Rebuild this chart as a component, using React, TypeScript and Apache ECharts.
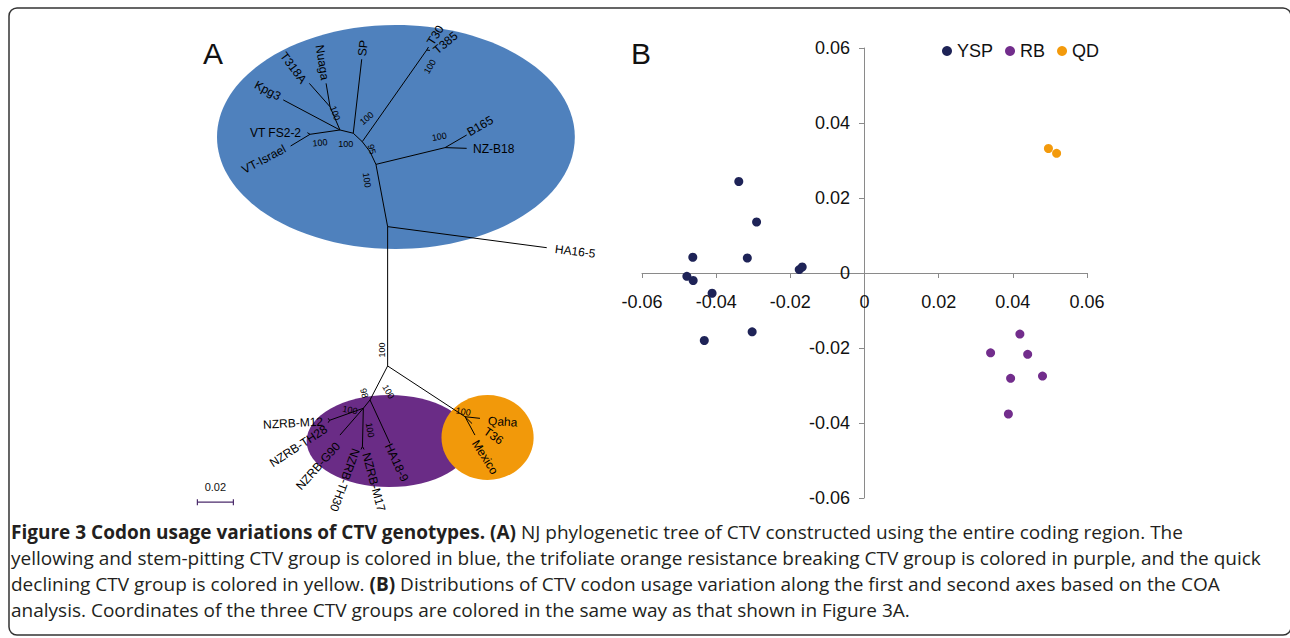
import React, { useEffect, useRef } from "react";
import * as echarts from "echarts";

const FONT = "'Liberation Sans', Arial, Helvetica, sans-serif";
const CAP_FONT = "'Open Sans', 'Noto Sans', sans-serif";

// ---------- Panel B: COA coordinates ----------
const ysp = [
  [-0.0339, 0.0244], [-0.0291, 0.0136], [-0.0463, 0.0042], [-0.0316, 0.004],
  [-0.0176, 0.0009], [-0.0168, 0.0016], [-0.0479, -0.0009], [-0.0462, -0.002],
  [-0.0411, -0.0054], [-0.0303, -0.0157], [-0.0432, -0.018],
];
const rb = [
  [0.0419, -0.0163], [0.034, -0.0213], [0.044, -0.0217],
  [0.0394, -0.0281], [0.048, -0.0275], [0.0388, -0.0376],
];
const qd = [[0.0496, 0.0332], [0.0518, 0.0319]];
const groupNames = ["YSP", "RB", "QD"];
const groupColors = ["#1e2357", "#722d8c", "#f39a0c"];

// ---------- Panel A: NJ tree layout (tree units, 0.01 substitutions = 1 unit) ----------
const treeNodes: [string, number, number][] = [
  ["HAnode", 10.98, 11.48], ["HA16-5", 19.82, 12.65], ["Nab", 10.33, 8.02],
  ["Bnode", 14.17, 7.09], ["B165", 15.37, 6.39], ["NZ-B18", 15.37, 7.13],
  ["Bend", 10.0, 7.32], ["N95", 9.57, 6.76], ["Tnode", 13.15, 1.67],
  ["T30", 13.25, 1.5], ["T385", 13.33, 1.69], ["Nsp", 9.07, 6.29],
  ["SP", 9.54, 2.18], ["C", 8.33, 6.11], ["Nnt", 7.78, 4.82],
  ["Nuaga", 7.56, 3.52], ["T318A", 6.63, 3.52], ["Kpg3", 5.18, 4.44],
  ["Vnode", 6.67, 6.35], ["VT FS2-2", 6.52, 6.26], ["VT-Israel", 5.59, 7.0],
  ["Nbot", 10.98, 19.22], ["Nqd", 15.28, 22.04], ["Qaha", 16.11, 22.13],
  ["T36", 15.67, 22.42], ["Mexico", 15.83, 23.06], ["Nrb1", 10.0, 21.11],
  ["HA18-9", 11.11, 23.52], ["Nrb2", 9.63, 21.57], ["Nm", 7.75, 22.24],
  ["NZRB-M12", 7.68, 22.13], ["NZRB-TH28", 7.68, 22.37], ["NZRB-G90", 8.33, 23.06],
  ["Ntm", 9.58, 23.69], ["NZRB-TH30", 9.5, 23.86], ["NZRB-M17", 9.67, 23.86],
];
const treeEdges: [string, string][] = [
  ["HAnode", "HA16-5"], ["HAnode", "Nab"], ["HAnode", "Nbot"],
  ["Nab", "Bnode"], ["Bnode", "B165"], ["Bnode", "NZ-B18"],
  ["Nab", "Bend"], ["Bend", "N95"], ["N95", "Tnode"], ["Tnode", "T30"], ["Tnode", "T385"],
  ["N95", "Nsp"], ["Nsp", "SP"], ["Nsp", "C"], ["C", "Nnt"], ["Nnt", "Nuaga"],
  ["Nnt", "T318A"], ["C", "Kpg3"], ["C", "Vnode"], ["Vnode", "VT FS2-2"], ["Vnode", "VT-Israel"],
  ["Nbot", "Nqd"], ["Nqd", "Qaha"], ["Nqd", "T36"], ["Nqd", "Mexico"],
  ["Nbot", "Nrb1"], ["Nrb1", "HA18-9"], ["Nrb1", "Nrb2"], ["Nrb2", "Nm"],
  ["Nm", "NZRB-M12"], ["Nm", "NZRB-TH28"], ["Nrb2", "NZRB-G90"], ["Nrb2", "Ntm"],
  ["Ntm", "NZRB-TH30"], ["Ntm", "NZRB-M17"],
];
// [text, x, y, rotationDeg, align]
const tipLabels: [string, number, number, number, string][] = [
  ["T30", 13.33, 1.33, 58, "left"], ["T385", 13.61, 1.76, 40, "left"],
  ["SP", 9.56, 2.0, 84, "left"], ["B165", 15.44, 6.28, 30, "left"],
  ["NZ-B18", 15.72, 7.17, 0, "left"], ["HA16-5", 20.28, 12.72, -7, "left"],
  ["Qaha", 16.56, 22.28, -3, "left"], ["T36", 16.39, 22.78, -35, "left"],
  ["Mexico", 15.83, 23.39, -58, "left"], ["HA18-9", 11.0, 23.56, -65, "left"],
  ["NZRB-M17", 9.78, 24.06, -75, "left"], ["NZRB-TH30", 9.22, 23.83, -110, "left"],
  ["Nuaga", 7.5, 3.33, -81, "right"], ["T318A", 6.33, 3.44, -53, "right"],
  ["Kpg3", 5.0, 4.28, -28, "right"], ["VT FS2-2", 6.17, 6.25, 0, "right"],
  ["VT-Israel", 5.28, 7.11, 28, "right"], ["NZRB-M12", 7.39, 22.31, 3, "right"],
  ["NZRB-TH28", 7.56, 22.67, 33, "right"], ["NZRB-G90", 8.22, 23.56, 48, "right"],
];
// [bootstrap, x, y, rotationDeg]
const bootstraps: [string, number, number, number][] = [
  ["100", 8.06, 5.18, -70], ["100", 9.82, 5.46, 40], ["100", 13.33, 2.59, 60],
  ["100", 13.85, 6.48, 10], ["100", 7.22, 6.82, 5], ["100", 8.65, 6.89, 0],
  ["95", 10.09, 7.18, -75], ["100", 9.82, 8.89, -82], ["100", 10.65, 18.33, 90],
  ["98", 9.68, 20.74, -75], ["100", 11.02, 20.65, -60], ["100", 8.89, 21.67, -10],
  ["100", 10.0, 22.78, -80], ["100", 15.18, 21.76, -10],
];
// [cx, cy, rx, ry, colour]
const groupEllipses: [number, number, number, number, string][] = [
  [11.44, 6.5, 9.94, 6.22, "#4f81bd"],
  [11.06, 23.39, 4.58, 2.56, "#6a2c86"],
  [16.53, 23.19, 2.56, 2.36, "#f2990a"],
];
const scaleBar = { length: 2, x: 0.41, y: 26.79, label: "0.02" };

const captionLines = [
  "{b|Figure 3 Codon usage variations of CTV genotypes. (A)} NJ phylogenetic tree of CTV constructed using the entire coding region. The",
  "yellowing and stem-pitting CTV group is colored in blue, the trifoliate orange resistance breaking CTV group is colored in purple, and the quick",
  "declining CTV group is colored in yellow. {b|(B)} Distributions of CTV codon usage variation along the first and second axes based on the COA",
  "analysis. Coordinates of the three CTV groups are colored in the same way as that shown in Figure 3A.",
];
const captionY = [532, 558, 584, 610];

export default function App() {
  const ref = useRef<HTMLDivElement>(null);
  useEffect(() => {
    if (!ref.current) return;
    const chart = echarts.init(ref.current, undefined, { renderer: "svg" });
    const nodeMap: Record<string, [number, number]> = {};
    treeNodes.forEach(([id, x, y]) => (nodeMap[id] = [x, y]));
    const edgeData = treeEdges.map(([a, b]) => [...nodeMap[a], ...nodeMap[b]]);
    const deg = Math.PI / 180;
    const fmt = (v: number) => (Math.abs(v) < 1e-9 ? "0" : v.toFixed(2));
    const axisColor = "#8a8a8a";

    const option: any = {
      animation: false,
      backgroundColor: "#fff",
      grid: [
        { left: 190, top: 20, width: 414, height: 504 },
        { left: 642, top: 48, width: 445, height: 450 },
      ],
      xAxis: [
        { gridIndex: 0, type: "value", min: 0, max: 23, show: false },
        {
          gridIndex: 1, type: "value", min: -0.06, max: 0.06, interval: 0.02,
          position: "bottom", offset: -225,
          splitLine: { show: false },
          axisLine: { onZero: false, lineStyle: { color: axisColor, width: 1 } },
          axisTick: { show: true, length: 5, lineStyle: { color: axisColor } },
          axisLabel: { margin: 20, fontSize: 18, color: "#111", fontFamily: FONT, formatter: fmt },
        },
      ],
      yAxis: [
        { gridIndex: 0, type: "value", min: 0, max: 28, inverse: true, show: false },
        {
          gridIndex: 1, type: "value", min: -0.06, max: 0.06, interval: 0.02,
          position: "left", offset: -222,
          splitLine: { show: false },
          axisLine: { onZero: false, lineStyle: { color: axisColor, width: 1 } },
          axisTick: { show: true, length: 5, lineStyle: { color: axisColor } },
          axisLabel: { margin: 14, fontSize: 18, color: "#111", fontFamily: FONT, formatter: fmt },
        },
      ],
      legend: {
        data: groupNames,
        left: 937, top: 37, icon: "circle", itemWidth: 10, itemHeight: 10, itemGap: 12,
        textStyle: { fontSize: 18, color: "#111", fontFamily: FONT },
      },
      graphic: [
        {
          type: "rect", z: -10, silent: true,
          shape: { x: 9, y: 8, width: 1282, height: 627, r: 8 },
          style: { fill: "none", stroke: "#333", lineWidth: 1.5 },
        },
        { type: "text", x: 203, y: 38, style: { text: "A", fontSize: 30, fontFamily: FONT, fill: "#111" } },
        { type: "text", x: 631, y: 38, style: { text: "B", fontSize: 30, fontFamily: FONT, fill: "#111" } },
        ...captionLines.map((t, i) => ({
          type: "text", x: 11, y: captionY[i],
          style: {
            text: t, fontSize: 19, fontFamily: CAP_FONT, fill: "#231f20", verticalAlign: "middle",
            rich: { b: { fontWeight: "bold", fontSize: 19, fontFamily: CAP_FONT, fill: "#231f20" } },
          },
        })),
      ],
      series: [
        {
          type: "custom", name: "ellipses", xAxisIndex: 0, yAxisIndex: 0, z: 1,
          data: groupEllipses.map((e) => [e[0], e[1], e[2], e[3]]),
          renderItem: (params: any, api: any) => {
            const c = api.coord([api.value(0), api.value(1)]);
            const s = api.size([api.value(2), api.value(3)]);
            return {
              type: "ellipse",
              shape: { cx: c[0], cy: c[1], rx: s[0], ry: s[1] },
              style: { fill: groupEllipses[params.dataIndex][4] },
            };
          },
        },
        {
          type: "custom", name: "branches", xAxisIndex: 0, yAxisIndex: 0, z: 2,
          data: edgeData,
          renderItem: (params: any, api: any) => {
            const p1 = api.coord([api.value(0), api.value(1)]);
            const p2 = api.coord([api.value(2), api.value(3)]);
            return {
              type: "line",
              shape: { x1: p1[0], y1: p1[1], x2: p2[0], y2: p2[1] },
              style: { stroke: "#000", lineWidth: 1 },
            };
          },
        },
        {
          type: "custom", name: "tips", xAxisIndex: 0, yAxisIndex: 0, z: 3,
          data: tipLabels.map((l) => [l[1], l[2]]),
          renderItem: (params: any, api: any) => {
            const l = tipLabels[params.dataIndex];
            const p = api.coord([api.value(0), api.value(1)]);
            return {
              type: "text", x: p[0], y: p[1], rotation: l[3] * deg,
              style: { text: l[0], fontSize: 12, fontFamily: FONT, fill: "#000", align: l[4], verticalAlign: "middle" },
            };
          },
        },
        {
          type: "custom", name: "bootstrap", xAxisIndex: 0, yAxisIndex: 0, z: 3,
          data: bootstraps.map((b) => [b[1], b[2]]),
          renderItem: (params: any, api: any) => {
            const b = bootstraps[params.dataIndex];
            const p = api.coord([api.value(0), api.value(1)]);
            return {
              type: "text", x: p[0], y: p[1], rotation: b[3] * deg,
              style: { text: b[0], fontSize: 9, fontFamily: FONT, fill: "#000", align: "center", verticalAlign: "middle" },
            };
          },
        },
        {
          type: "custom", name: "scalebar", xAxisIndex: 0, yAxisIndex: 0, z: 3,
          data: [[scaleBar.x, scaleBar.y, scaleBar.x + scaleBar.length, scaleBar.y]],
          renderItem: (params: any, api: any) => {
            const p1 = api.coord([api.value(0), api.value(1)]);
            const p2 = api.coord([api.value(2), api.value(3)]);
            const st = { stroke: "#4b2a6b", lineWidth: 1.2 };
            return {
              type: "group",
              children: [
                { type: "line", shape: { x1: p1[0], y1: p1[1], x2: p2[0], y2: p2[1] }, style: st },
                { type: "line", shape: { x1: p1[0], y1: p1[1] - 3, x2: p1[0], y2: p1[1] + 3 }, style: st },
                { type: "line", shape: { x1: p2[0], y1: p2[1] - 3, x2: p2[0], y2: p2[1] + 3 }, style: st },
                {
                  type: "text", x: (p1[0] + p2[0]) / 2, y: p1[1] - 15,
                  style: { text: scaleBar.label, fontSize: 11, fontFamily: FONT, fill: "#111", align: "center", verticalAlign: "middle" },
                },
              ],
            };
          },
        },
        ...[ysp, rb, qd].map((d, i) => ({
          type: "scatter", name: groupNames[i], xAxisIndex: 1, yAxisIndex: 1,
          data: d, symbol: "circle", symbolSize: 9, z: 5,
          itemStyle: { color: groupColors[i], opacity: 1 },
        })),
      ],
    };
    chart.setOption(option);
    return () => chart.dispose();
  }, []);
  return (
    <div
      ref={ref}
      style={{ position: "absolute", left: 0, top: 0, width: 1290, height: 638, background: "#fff" }}
    />
  );
}
